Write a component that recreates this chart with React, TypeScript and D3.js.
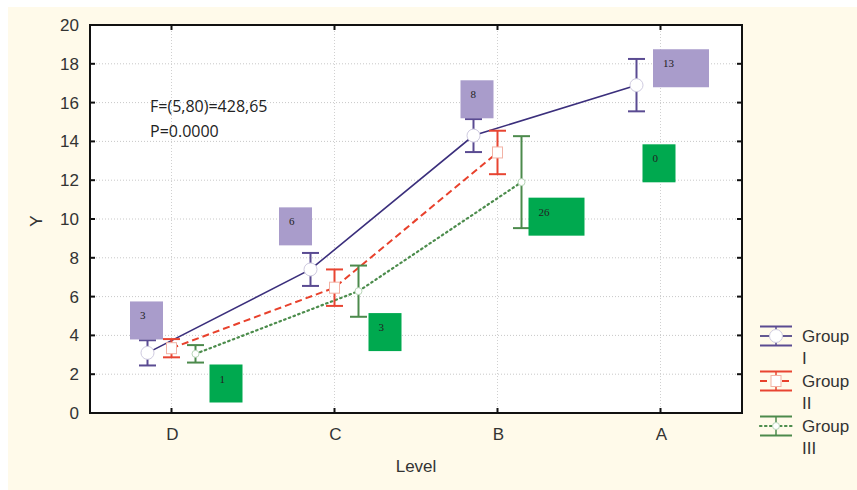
import * as d3 from "d3";
import * as React from "react";

const categories = ["D", "C", "B", "A"];
const groups = ["Group I", "Group II", "Group III"];
const legendRows = [["Group", "I"], ["Group", "II"], ["Group", "III"]];

// means and half-widths of the error bars, null = no value
const meansI = [3.1, 7.4, 14.3, 16.9];
const errI = [0.65, 0.85, 0.85, 1.35];
const meansII = [3.34, 6.46, 13.43, null];
const errII = [0.47, 0.94, 1.12, null];
const meansIII = [3.05, 6.28, 11.9, null];
const errIII = [0.45, 1.32, 2.37, null];

// counts in the annotation boxes
const countsI = [3, 6, 8, 13];
const countsIII = [1, 3, 26, 0];
// box tops in Y units
const topsI = [5.75, 10.6, 17.15, 18.75];
const topsIII = [2.5, 5.15, 11.1, 13.85];

const yTicks = [0, 2, 4, 6, 8, 10, 12, 14, 16, 18, 20];
const statLines = ["F=(5,80)=428,65", "P=0.0000"];

const W = 857, H = 490;
const marginLeft = 90, marginRight = 115, marginTop = 25, marginBottom = 77;
const sans = "'Liberation Sans', Arial, sans-serif";

export default function App() {
  const x = d3.scalePoint<string>().domain(categories).range([marginLeft, W - marginRight]).padding(0.5);
  const y = d3.scaleLinear().domain([0, 20]).range([H - marginBottom, marginTop]);
  const off = d3.scalePoint<string>().domain(groups).range([-24, 24]);
  const x0 = marginLeft, x1 = W - marginRight, y0 = H - marginBottom, y1 = marginTop;

  const series = [
    { name: groups[0], means: meansI, err: errI, color: "#3b2f7c", bar: "#5a4b92", dash: null, cap: "butt", width: 1.6 },
    { name: groups[1], means: meansII, err: errII, color: "#e8412c", bar: "#e84532", dash: "7,4", cap: "butt", width: 2 },
    { name: groups[2], means: meansIII, err: errIII, color: "#4c8c4c", bar: "#4c8a4c", dash: "1.5,3.5", cap: "round", width: 2.2 },
  ];

  const marker = (i: number, cx: number, cy: number, key: string) => {
    if (i === 0) return <circle key={key} cx={cx} cy={cy} r={6.5} fill="#fff" stroke="#cfcbe0" strokeWidth={1} />;
    if (i === 1) return <rect key={key} x={cx - 5} y={cy - 5.5} width={10} height={11} fill="#fff" stroke="#f2b3a6" strokeWidth={1} />;
    return <circle key={key} cx={cx} cy={cy} r={3.5} fill="#fff" stroke="#b9d6b9" strokeWidth={1} />;
  };

  const boxes = (counts: number[], tops: number[], fill: string, dxs: number[], tag: string) =>
    counts.map((c, i) => {
      const bw = String(c).length > 1 ? 56 : 33;
      const bx = (x(categories[i]) as number) + dxs[i];
      const by = y(tops[i]);
      return (
        <g key={tag + i}>
          <rect x={bx} y={by} width={bw} height={38} fill={fill} />
          <text x={bx + 10} y={by + 18} fontFamily="'Liberation Serif', serif" fontSize={11} fill="#222">{c}</text>
        </g>
      );
    });

  return (
    <svg width={W} height={H} style={{ position: "absolute", left: 0, top: 0 }}>
      <rect width={W} height={H} fill="#fff" />
      <rect x={8} y={7} width={W - 8} height={H - 7} fill="#fffaea" />
      <rect x={x0} y={y1} width={x1 - x0} height={y0 - y1} fill="#fff" />

      {/* grid */}
      {yTicks.slice(1, -1).map(t => (
        <line key={"gy" + t} x1={x0} x2={x1} y1={y(t)} y2={y(t)} stroke="#c8c8c8" strokeDasharray="1,2" />
      ))}
      {categories.map(c => (
        <line key={"gx" + c} x1={x(c)} x2={x(c)} y1={y1} y2={y0} stroke="#d0d0d0" strokeDasharray="1,2" />
      ))}

      {/* frame + inner ticks */}
      <rect x={x0} y={y1} width={x1 - x0} height={y0 - y1} fill="none" stroke="#111" strokeWidth={2} />
      {yTicks.map(t => (
        <g key={"t" + t}>
          <line x1={x0} x2={x0 + 5} y1={y(t)} y2={y(t)} stroke="#111" strokeWidth={2} />
          <line x1={x1 - 5} x2={x1} y1={y(t)} y2={y(t)} stroke="#111" strokeWidth={2} />
          <text x={79} y={y(t) + 6} textAnchor="end" fontFamily={sans} fontSize={17} fill="#333">{t}</text>
        </g>
      ))}
      {categories.map(c => (
        <g key={"c" + c}>
          <line x1={x(c)} x2={x(c)} y1={y1} y2={y1 + 5} stroke="#111" strokeWidth={2} />
          <line x1={x(c)} x2={x(c)} y1={y0 - 5} y2={y0} stroke="#111" strokeWidth={2} />
          <text x={(x(c) as number) + 1} y={440} textAnchor="middle" fontFamily={sans} fontSize={17} fill="#333">{c}</text>
        </g>
      ))}
      <text x={416} y={472} textAnchor="middle" fontFamily={sans} fontSize={17} fill="#333">Level</text>
      <text transform="translate(42,221) rotate(-90)" textAnchor="middle" fontFamily={sans} fontSize={17} fill="#333">Y</text>

      {/* statistic */}
      {statLines.map((s, i) => (
        <text key={s} x={150} y={112 + i * 25} fontFamily="'Open Sans', sans-serif" fontSize={16} fill="#222">{s}</text>
      ))}

      {/* lines */}
      {series.map(s => {
        const pts = s.means
          .map((m, i) => (m == null ? null : [(x(categories[i]) as number) + (off(s.name) as number), y(m)] as [number, number]))
          .filter(p => p != null) as [number, number][];
        return (
          <path key={"l" + s.name} d={d3.line()(pts) as string} fill="none" stroke={s.color}
            strokeWidth={s.width} strokeDasharray={s.dash ?? undefined} strokeLinecap={s.cap as any} />
        );
      })}

      {/* error bars + markers */}
      {series.map((s, si) =>
        s.means.map((m, i) => {
          if (m == null) return null;
          const cx = (x(categories[i]) as number) + (off(s.name) as number);
          const e = s.err[i] as number;
          const yt = y(m + e), yb = y(m - e);
          return (
            <g key={s.name + i}>
              <line x1={cx} x2={cx} y1={yt} y2={yb} stroke={s.bar} strokeWidth={2} />
              <line x1={cx - 8.5} x2={cx + 8.5} y1={yt} y2={yt} stroke={s.bar} strokeWidth={2} />
              <line x1={cx - 8.5} x2={cx + 8.5} y1={yb} y2={yb} stroke={s.bar} strokeWidth={2} />
              {marker(si, cx, y(m), "m" + s.name + i)}
            </g>
          );
        })
      )}

      {/* count boxes */}
      {boxes(countsI, topsI, "#a99ccb", [-41.5, -55.5, -37, -7.5], "bp")}
      {boxes(countsIII, topsIII, "#00a94f", [38, 34, 31, -18], "bg")}

      {/* legend */}
      {series.map((s, i) => {
        const cy = 336 + i * 45;
        const lx = 760, rx = 792, mx = 776;
        return (
          <g key={"lg" + s.name}>
            <line x1={lx} x2={rx} y1={cy - 9.5} y2={cy - 9.5} stroke={s.bar} strokeWidth={2} />
            <line x1={lx} x2={rx} y1={cy + 9.5} y2={cy + 9.5} stroke={s.bar} strokeWidth={2} />
            <line x1={mx} x2={mx} y1={cy - 9.5} y2={cy + 9.5} stroke={s.bar} strokeWidth={1.5} />
            <line x1={lx} x2={rx} y1={cy} y2={cy} stroke={s.color} strokeWidth={s.width}
              strokeDasharray={s.dash ?? undefined} strokeLinecap={s.cap as any} />
            {marker(i, mx, cy, "lm" + i)}
            <text x={802} y={cy + 6} fontFamily={sans} fontSize={17} fill="#333">{legendRows[i][0]}</text>
            <text x={802} y={cy + 28} fontFamily={sans} fontSize={17} fill="#333">{legendRows[i][1]}</text>
          </g>
        );
      })}
    </svg>
  );
}
